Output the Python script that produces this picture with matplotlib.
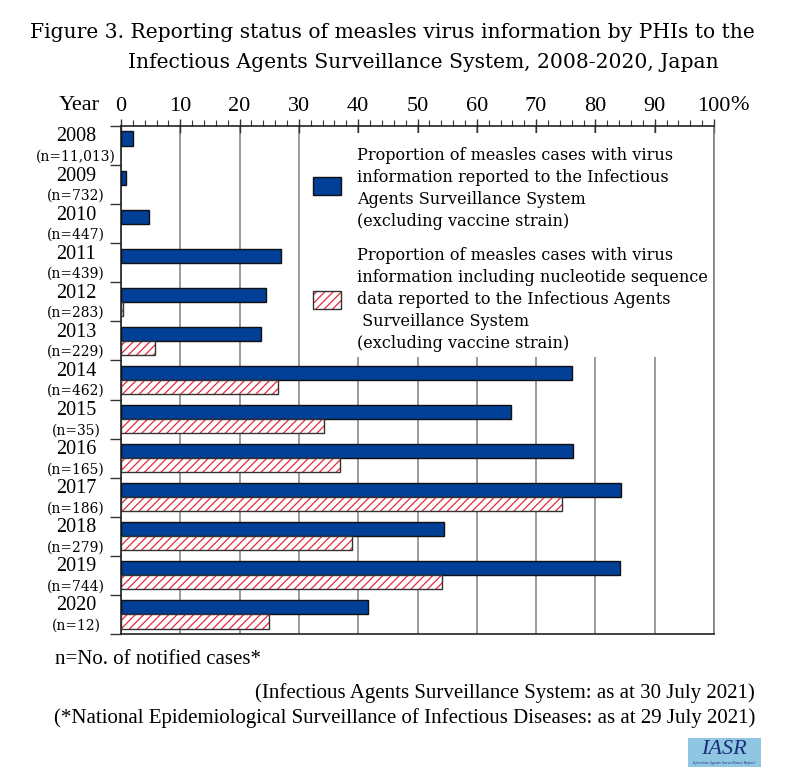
import numpy as np
import matplotlib
matplotlib.use("Agg")
import matplotlib.pyplot as plt
from matplotlib.patches import Rectangle
from matplotlib.transforms import blended_transform_factory

# Data (percent)
years = ['2008', '2009', '2010', '2011', '2012', '2013', '2014',
         '2015', '2016', '2017', '2018', '2019', '2020']
n_cases = ['11,013', '732', '447', '439', '283', '229', '462',
           '35', '165', '186', '279', '744', '12']
virus_info = [2.1, 0.8, 4.7, 26.9, 24.4, 23.6, 76.1,
              65.7, 76.3, 84.4, 54.4, 84.2, 41.7]
sequence_info = [0, 0, 0, 0, 0.4, 5.7, 26.4,
                 34.3, 36.9, 74.3, 39.0, 54.2, 25.0]

legend_blue = ['Proportion of measles cases with virus',
               'information reported to the Infectious',
               'Agents Surveillance System',
               '(excluding vaccine strain)']
legend_red = ['Proportion of measles cases with virus',
              'information including nucleotide sequence',
              'data reported to the Infectious Agents',
              ' Surveillance System',
              '(excluding vaccine strain)']

BLUE = '#023f97'
RED = '#e8283c'
SERIF = 'DejaVu Serif'
NARROW = 'Liberation Serif'
plt.rcParams['font.family'] = SERIF
plt.rcParams['hatch.linewidth'] = 0.9

W, H = 794, 784
fig = plt.figure(figsize=(W / 100, H / 100), dpi=100)


def fx(px):
    return px / W


def fy(py):
    return 1 - py / H


ax = fig.add_axes([fx(121), fy(634), fx(714) - fx(121), fy(126) - fy(634)])

y = np.arange(len(years))
h = 0.36

ax.barh(y - 0.18, virus_info, height=h, color=BLUE, edgecolor='#111111',
        linewidth=1.0, zorder=3)

idx = [i for i, v in enumerate(sequence_info) if v > 0]
sy = np.array([y[i] for i in idx]) + 0.18
sv = [sequence_info[i] for i in idx]
ax.barh(sy, sv, height=h, color='white', edgecolor=RED, hatch='////',
        linewidth=0, zorder=3)
ax.barh(sy, sv, height=h, fill=False, edgecolor='#333333', linewidth=1.0,
        zorder=4)

ax.set_xlim(0, 100)
ax.set_ylim(len(years) - 0.5, -0.5)

# top axis with percent ticks
ax.xaxis.tick_top()
ax.set_xticks(np.arange(0, 101, 10))
ax.set_xticks(np.arange(0, 101, 2), minor=True)
ax.tick_params(axis='x', which='major', direction='inout', length=10,
               width=1, labelsize=15, pad=2, color='#333333')
ax.tick_params(axis='x', which='minor', direction='out', length=4,
               width=0.8, color='#333333')
ax.tick_params(axis='x', which='both', bottom=False)
for lab in ax.get_xticklabels():
    lab.set_fontfamily(NARROW)
    lab.set_fontsize(16)

# row separators on the left
ax.set_yticks(np.arange(-0.5, len(years), 1.0))
ax.set_yticklabels([])
ax.tick_params(axis='y', direction='out', length=8, width=1, color='#333333')

ax.grid(axis='x', which='major', color='#808080', linewidth=1.1)
ax.set_axisbelow(True)
for s in ['top', 'left', 'bottom']:
    ax.spines[s].set_color('#222222')
    ax.spines[s].set_linewidth(1.2)
ax.spines['right'].set_color('#808080')
ax.spines['right'].set_linewidth(1.2)

# year labels
tr = blended_transform_factory(ax.transAxes, ax.transData)
for i, (yr, n) in enumerate(zip(years, n_cases)):
    ax.text(-0.076, i - 0.22, yr, transform=tr, ha='center', va='center',
            fontsize=14.5, family=NARROW)
    ax.text(-0.076, i + 0.285, '(n=' + n + ')', transform=tr, ha='center',
            va='center', fontsize=10)

fig.text(fx(100), fy(106), 'Year', ha='right', va='center', fontsize=16,
         family=NARROW)
fig.text(fx(730), fy(106), '%', ha='left', va='center', fontsize=16,
         family=NARROW)

# legend area (white background hides the gridlines)
ax.add_patch(Rectangle((31.5, -0.32), 68.3, 5.74, facecolor='white',
                       edgecolor='none', zorder=1))
ax.add_patch(Rectangle((0.3238, 0.864), 0.047, 0.0356, transform=ax.transAxes,
                       facecolor=BLUE, edgecolor='#111111', linewidth=1,
                       zorder=5))
ax.add_patch(Rectangle((0.3238, 0.640), 0.047, 0.0356, transform=ax.transAxes,
                       facecolor='white', edgecolor=RED, hatch='////',
                       linewidth=0, zorder=5))
ax.add_patch(Rectangle((0.3238, 0.640), 0.047, 0.0356, transform=ax.transAxes,
                       fill=False, edgecolor='#333333', linewidth=1,
                       zorder=6))
for k, line in enumerate(legend_blue):
    fig.text(fx(357), fy(156 + 21.8 * k), line, ha='left', va='center',
             fontsize=11.6)
for k, line in enumerate(legend_red):
    fig.text(fx(357), fy(256 + 21.8 * k), line, ha='left', va='center',
             fontsize=11.6)

# title
fig.text(fx(30), fy(33), 'Figure 3. Reporting status of measles virus '
         'information by PHIs to the', ha='left', va='center', fontsize=14.6)
fig.text(fx(128), fy(62), 'Infectious Agents Surveillance System, '
         '2008-2020, Japan', ha='left', va='center', fontsize=14.6)

# footnotes
fig.text(fx(55), fy(660), 'n=No. of notified cases*', ha='left',
         va='center', fontsize=15, family=NARROW)
fig.text(fx(755), fy(693), '(Infectious Agents Surveillance System: '
         'as at 30 July 2021)', ha='right', va='center', fontsize=15,
         family=NARROW)
fig.text(fx(755), fy(718), '(*National Epidemiological Surveillance of '
         'Infectious Diseases: as at 29 July 2021)', ha='right',
         va='center', fontsize=15, family=NARROW)

# IASR badge
fig.patches.append(Rectangle((fx(688), fy(767)), fx(73), 29 / H,
                             transform=fig.transFigure, facecolor='#8fc6e2',
                             edgecolor='none'))
fig.text(fx(724), fy(750), 'IASR', ha='center', va='center', fontsize=16,
         style='italic', color='#1c2f7a', family=NARROW)
fig.text(fx(724), fy(763), 'Infectious Agents Surveillance Report',
         ha='center', va='center', fontsize=3, style='italic',
         color='#1c2f7a', family=NARROW)

fig.savefig('out.png', dpi=100)
